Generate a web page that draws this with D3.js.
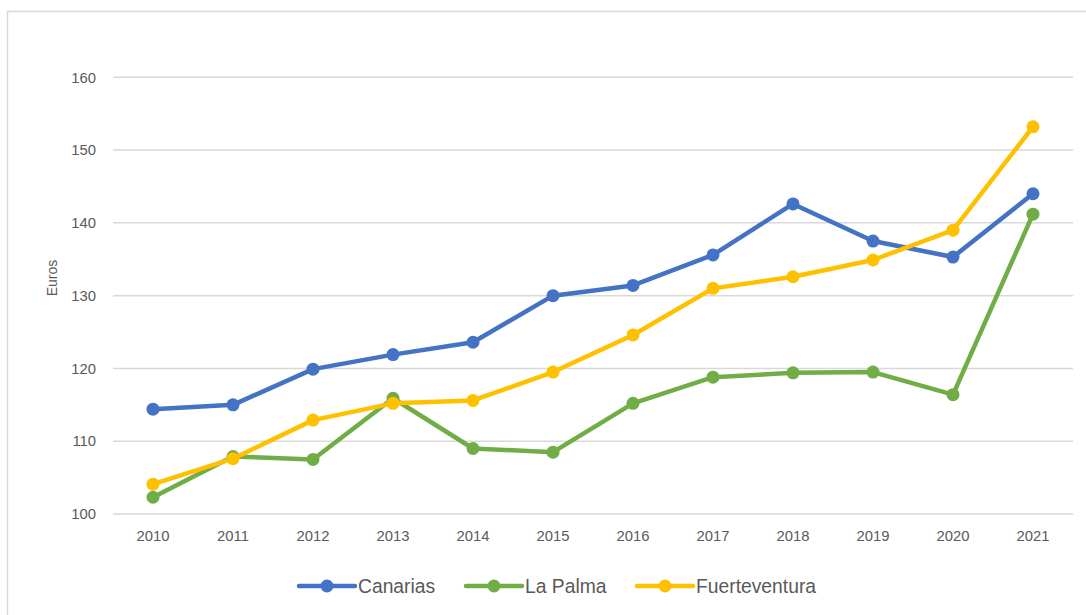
<!DOCTYPE html>
<html>
<head>
<meta charset="utf-8">
<script src="https://cdn.jsdelivr.net/npm/d3@7"></script>
<style>
  body { margin: 0; background: #fff; }
  svg { display: block; font-family: "Liberation Sans", Arial, sans-serif; }
</style>
</head>
<body>
<div id="chart"></div>
<script>
var years = ['2010','2011','2012','2013','2014','2015','2016','2017','2018','2019','2020','2021']
var canarias = [114.4, 115.0, 119.9, 121.9, 123.6, 130.0, 131.4, 135.6, 142.6, 137.5, 135.3, 144.0]
var laPalma = [102.3, 107.9, 107.5, 115.9, 109.0, 108.5, 115.2, 118.8, 119.4, 119.5, 116.4, 141.2]
var fuerteventura = [104.1, 107.6, 112.9, 115.2, 115.6, 119.5, 124.6, 131.0, 132.6, 134.9, 139.0, 153.2]
var seriesNames = ['Canarias', 'La Palma', 'Fuerteventura']
var yTicks = [100, 110, 120, 130, 140, 150, 160]

var width = 1086
var height = 615
var colors = ['#4472C4', '#70AD47', '#FFC000']
var textColor = '#595959'

var series = [canarias, laPalma, fuerteventura].map(function(vals, i){
  return {
    name: seriesNames[i],
    color: colors[i],
    values: vals.map(function(v, j){ return {year: years[j], value: v} })
  }
})

var svg = d3.select('#chart').append('svg')
  .attr('width', width)
  .attr('height', height)

// outer chart frame
svg.append('rect')
  .attr('x', 7.5).attr('y', 11.5)
  .attr('width', width + 20).attr('height', height + 20)
  .attr('fill', 'none')
  .attr('stroke', '#d9d9d9')
  .attr('stroke-width', 1.5)

var x = d3.scaleBand()
  .domain(years)
  .range([113, 1073])

var y = d3.scaleLinear()
  .domain([100, 160])
  .range([514, 77.3])

// gridlines
svg.append('g')
  .selectAll('line')
  .data(yTicks)
  .join('line')
  .attr('x1', 113)
  .attr('x2', 1073)
  .attr('y1', function(d){ return y(d) })
  .attr('y2', function(d){ return y(d) })
  .attr('stroke', '#d9d9d9')
  .attr('stroke-width', 1.5)

var yAxis = d3.axisLeft(y).tickValues(yTicks).tickSize(0).tickPadding(0)
svg.append('g')
  .attr('transform', 'translate(96,0)')
  .call(yAxis)
  .call(function(g){ g.select('.domain').remove() })
  .selectAll('text')
  .attr('fill', textColor)
  .attr('font-size', '14.8px')
  .attr('font-family', '"Liberation Sans", Arial, sans-serif')

var xAxis = d3.axisBottom(x).tickSize(0).tickPadding(0)
svg.append('g')
  .attr('transform', 'translate(0,530)')
  .call(xAxis)
  .call(function(g){ g.select('.domain').remove() })
  .selectAll('text')
  .attr('fill', textColor)
  .attr('font-size', '14.8px')
  .attr('font-family', '"Liberation Sans", Arial, sans-serif')

svg.append('text')
  .attr('transform', 'translate(57,278) rotate(-90)')
  .attr('text-anchor', 'middle')
  .attr('fill', textColor)
  .attr('font-size', '14px')
  .text('Euros')

var line = d3.line()
  .x(function(d){ return x(d.year) + x.bandwidth() / 2 })
  .y(function(d){ return y(d.value) })

var g = svg.append('g')
series.forEach(function(s){
  var sg = g.append('g')
  sg.append('path')
    .datum(s.values)
    .attr('fill', 'none')
    .attr('stroke', s.color)
    .attr('stroke-width', 4.5)
    .attr('stroke-linejoin', 'round')
    .attr('stroke-linecap', 'round')
    .attr('d', line)
  sg.selectAll('circle')
    .data(s.values)
    .join('circle')
    .attr('cx', function(d){ return x(d.year) + x.bandwidth() / 2 })
    .attr('cy', function(d){ return y(d.value) })
    .attr('r', 6.5)
    .attr('fill', s.color)
})

// legend
var legendX = [299, 466, 637]
var legend = svg.append('g')
series.forEach(function(s, i){
  var lg = legend.append('g').attr('transform', 'translate(' + legendX[i] + ',586)')
  lg.append('line')
    .attr('x1', 0).attr('x2', 56)
    .attr('stroke', s.color)
    .attr('stroke-width', 4.5)
    .attr('stroke-linecap', 'round')
  lg.append('circle')
    .attr('cx', 28).attr('r', 6.5)
    .attr('fill', s.color)
  lg.append('text')
    .attr('x', 59)
    .attr('dy', '0.35em')
    .attr('fill', textColor)
    .attr('font-size', '19.3px')
    .text(s.name)
})
</script>
</body>
</html>
